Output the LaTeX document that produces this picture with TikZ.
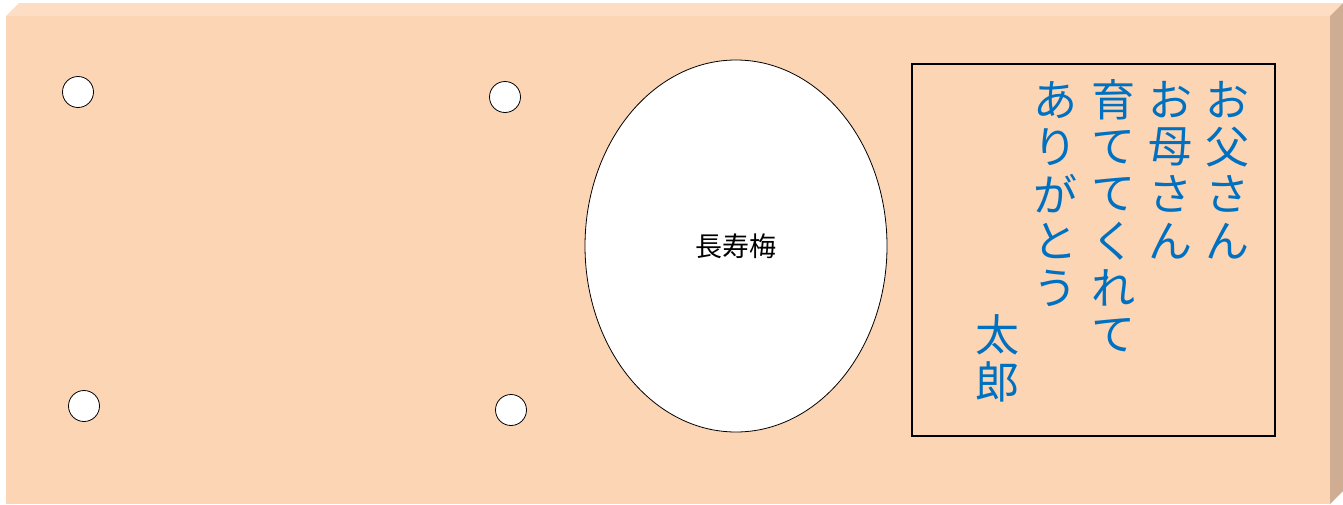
\documentclass[tikz,border=0pt]{standalone}
\usepackage{fontspec}
\newfontfamily\jpfont{Noto Sans CJK JP}
\usetikzlibrary{shapes.geometric}
\definecolor{boardfront}{HTML}{FCD5B5}
\definecolor{boardtop}{HTML}{FDDDC4}
\definecolor{boardside}{HTML}{CFAD92}
\definecolor{msgblue}{HTML}{0070C0}
\begin{document}
\begin{tikzpicture}[x=1pt, y=-1pt, hole_style/.style={circle,draw=black,fill=white,line width=0.8pt,minimum size=31pt,inner sep=0pt}, plum_style/.style={ellipse,draw=black,fill=white,line width=0.8pt,minimum width=302pt,minimum height=372pt,inner sep=0pt,font=\jpfont\fontsize{27}{27}\selectfont}, card_style/.style={rectangle,draw=black,line width=1.5pt,minimum width=363pt,minimum height=372pt,inner sep=0pt}, letter_style/.style={inner sep=0pt,text=msgblue,font=\jpfont\fontsize{44}{44}\selectfont}]
      \useasboundingbox (0,0) rectangle (1343,504);
      % board
      \fill[boardfront] (6,16) rectangle (1330,504);
      \fill[boardtop] (6,16) -- (19,3) -- (1343,3) -- (1330,16) -- cycle;
      \fill[boardside] (1330,16) -- (1343,3) -- (1343,491) -- (1330,504) -- cycle;
      \draw
        (78,92) node[hole_style] (h1){}
        (505,97) node[hole_style] (h2){}
        (84,406) node[hole_style] (h3){}
        (511,410) node[hole_style] (h4){};
      \node[plum_style] (plum) at (736,246) {長寿梅};
      \node[card_style] (card) at (1093.5,250) {};
      % message, vertical
      \foreach \x/\s/\chars in {1227/0/{お,父,さ,ん}, 1170/0/{お,母,さ,ん}, 1113/0/{育,て,て,く,れ,て}, 1055/0/{あ,り,が,と,う}, 997/5/{太,郎}} {
        \foreach \c [count=\i from \s] in \chars {
          \node[letter_style] (m\x-\i) at (\x,{100+47*\i}) {\c};
        }
      }
    \end{tikzpicture}
\end{document}
